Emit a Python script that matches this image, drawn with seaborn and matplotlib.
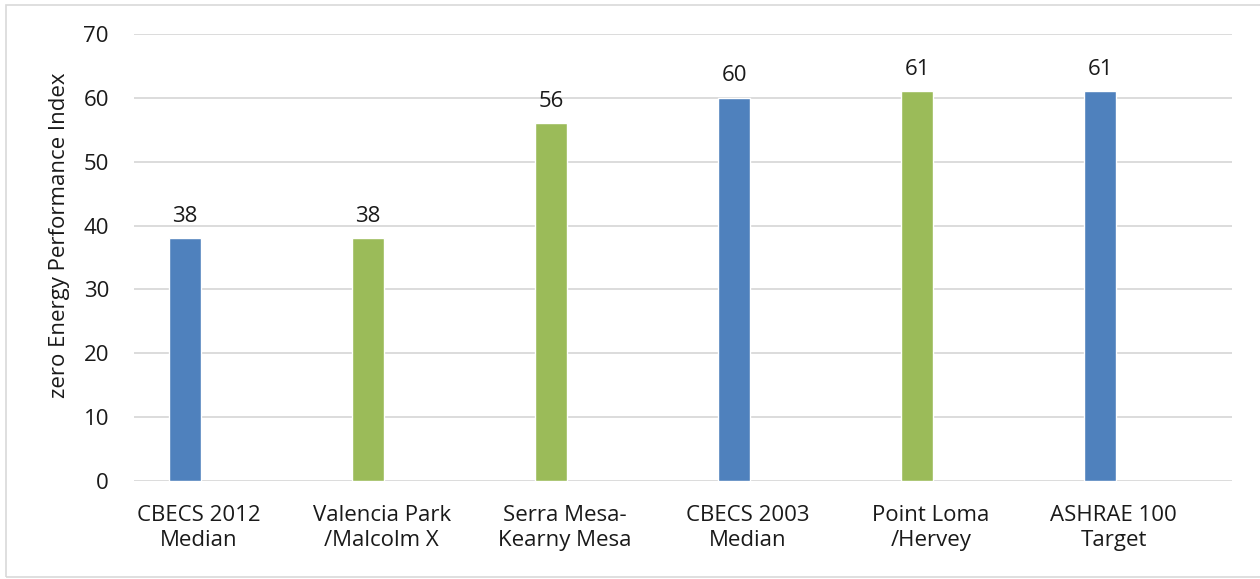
import numpy as np
import pandas as pd
import matplotlib
matplotlib.use("Agg")
import matplotlib.pyplot as plt
from matplotlib.patches import Rectangle
import seaborn as sns

categories = ["CBECS 2012\nMedian", "Valencia Park\n/Malcolm X", "Serra Mesa-\nKearny Mesa",
              "CBECS 2003\nMedian", "Point Loma\n/Hervey", "ASHRAE 100\nTarget"]
scores = [38, 38, 56, 60, 61, 61]
groups = ["Benchmark", "School", "School", "Benchmark", "School", "Benchmark"]
palette = {"Benchmark": "#4F81BD", "School": "#9BBB59"}

df = pd.DataFrame({"category": categories, "score": scores, "group": groups})

sns.set_style("white")
plt.rcParams["font.family"] = ["Open Sans", "DejaVu Sans"]

fig = plt.figure(figsize=(12.6, 5.79), dpi=100)
ax = fig.add_axes([134 / 1260, 1 - 481 / 579, (1232 - 134) / 1260, (481 - 34) / 579])

sns.barplot(data=df, x="category", y="score", hue="group", palette=palette,
            dodge=False, width=0.175, saturation=1, legend=False, ax=ax, zorder=3)

# value labels above each bar
for i, v in enumerate(scores):
    ax.annotate(str(v), (i, v), xytext=(0, 12), textcoords="offset points",
                ha="center", va="baseline", fontsize=16, color="#1a1a1a")

ax.set_xlim(-0.279, 5.721)
ax.set_ylim(0, 70)
ax.set_yticks(range(0, 71, 10))
ax.set_xticks(np.arange(len(categories)) + 0.075)
ax.set_xticklabels(categories, fontsize=16, color="#1a1a1a", linespacing=1.3)
ax.tick_params(axis="y", labelsize=16, colors="#1a1a1a", length=0, pad=18)
ax.tick_params(axis="x", length=0, pad=17)
ax.grid(axis="y", color="#D9D9D9", linewidth=1.3, zorder=0)
ax.set_axisbelow(True)
for s in ax.spines.values():
    s.set_visible(False)
ax.set_xlabel("")
ax.set_ylabel("zero Energy Performance Index", fontsize=16, color="#1a1a1a")
ax.yaxis.set_label_coords((70 - 134) / 1098, 0.55)

# light chart-area border
fig.patches.append(Rectangle((6 / 1260, 2 / 579), 1.1, 1 - 7 / 579, transform=fig.transFigure,
                             fill=False, edgecolor="#D9D9D9", linewidth=1.2))

fig.savefig("out.png", dpi=100)
